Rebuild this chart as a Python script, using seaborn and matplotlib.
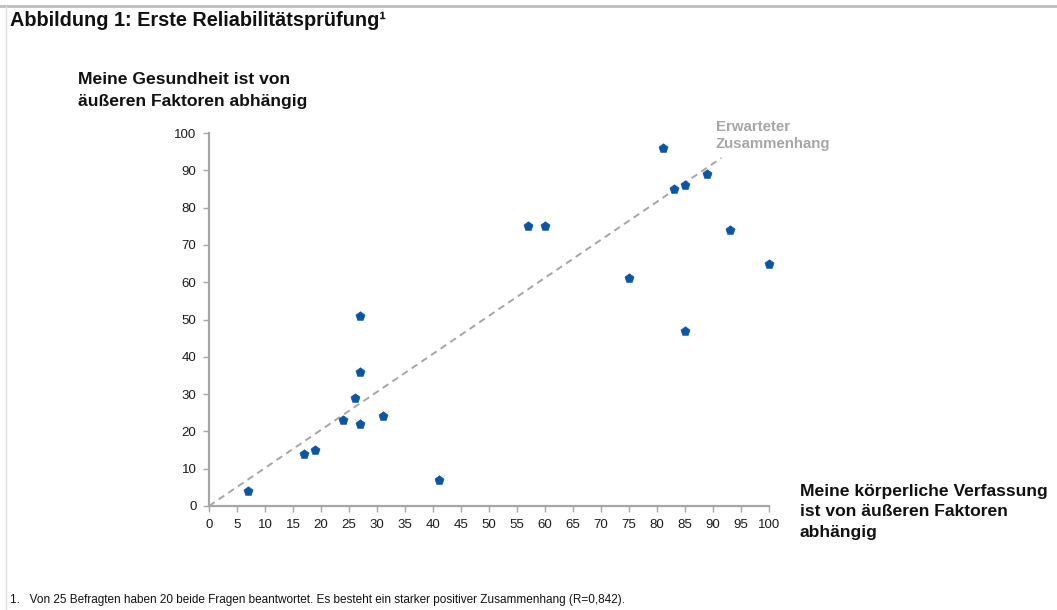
import matplotlib
matplotlib.use("Agg")
import matplotlib.pyplot as plt
import seaborn as sns
import pandas as pd
from matplotlib.lines import Line2D

# Survey answers of the 20 respondents who answered both questions
verfassung = [7, 17, 19, 24, 26, 27, 27, 27, 31, 41, 57, 60, 75, 81, 83, 85, 89, 93, 85, 100]
gesundheit = [4, 14, 15, 23, 29, 22, 36, 51, 24, 7, 75, 75, 61, 96, 85, 86, 89, 74, 47, 65]

# Expected relationship (reference line)
erwartet_x = [0, 91.5]
erwartet_y = [0, 93.3]

x_ticks = list(range(0, 101, 5))
y_ticks = list(range(0, 101, 10))

df = pd.DataFrame({"verfassung": verfassung, "gesundheit": gesundheit})

sns.set_theme(style="white")
plt.rcParams["font.family"] = ["Liberation Sans", "DejaVu Sans"]

fig = plt.figure(figsize=(10.57, 6.10), dpi=100)
ax = fig.add_axes([209 / 1057, 1 - 506 / 610, 560 / 1057, 373 / 610])

axis_grey = "#a6a6a6"
ax.plot(erwartet_x, erwartet_y, linestyle=(0, (3.5, 2.5)), color="#a6a6a6",
        linewidth=1.4, zorder=1)
sns.scatterplot(data=df, x="verfassung", y="gesundheit", ax=ax, marker="p",
                s=46, color="#0a56a5", edgecolor="#0a56a5", linewidth=0.5,
                zorder=3, legend=False, clip_on=False)

ax.set_xlim(0, 100)
ax.set_ylim(0, 100)
ax.set_xticks(x_ticks)
ax.set_yticks(y_ticks)
ax.set_xticklabels([str(t) for t in x_ticks])
ax.set_yticklabels([str(t) for t in y_ticks])
ax.set_xlabel("")
ax.set_ylabel("")
for side in ("top", "right"):
    ax.spines[side].set_visible(False)
for side in ("left", "bottom"):
    ax.spines[side].set_color(axis_grey)
    ax.spines[side].set_linewidth(1.6)
ax.tick_params(axis="both", which="both", direction="out", length=4, width=1,
               color=axis_grey, labelsize=9.5, labelcolor="#1a1a1a", pad=5,
               bottom=True, left=True)
ax.set_facecolor("white")

# Annotation of the reference line
fig.text(716 / 1057, 1 - 120 / 610, "Erwarteter\nZusammenhang", color="#a6a6a6",
         fontsize=10.8, fontweight="bold", va="top", ha="left", linespacing=1.3)

# Axis titles
fig.text(78 / 1057, 1 - 72 / 610, "Meine Gesundheit ist von\näußeren Faktoren abhängig",
         fontsize=12.6, fontweight="bold", va="top", ha="left", color="#111111",
         linespacing=1.55)
fig.text(800 / 1057, 1 - 484 / 610,
         "Meine körperliche Verfassung\nist von äußeren Faktoren\nabhängig",
         fontsize=12.6, fontweight="bold", va="top", ha="left", color="#111111",
         linespacing=1.45)

# Title and footnote
fig.text(10 / 1057, 1 - 21 / 610, "Abbildung 1: Erste Reliabilitätsprüfung¹",
         fontsize=14.3, fontweight="bold", va="center", ha="left", color="#111111")
fig.text(10 / 1057, 1 - 600 / 610,
         "1.   Von 25 Befragten haben 20 beide Fragen beantwortet. Es besteht ein starker positiver Zusammenhang (R=0,842).",
         fontsize=8.5, va="center", ha="left", color="#111111")

# Frame lines along the top and left edges
fig.add_artist(Line2D([0, 1], [1 - 6 / 610, 1 - 6 / 610], transform=fig.transFigure,
                      color="#bdbdbd", linewidth=2))
fig.add_artist(Line2D([6 / 1057, 6 / 1057], [0, 1 - 6 / 610], transform=fig.transFigure,
                      color="#dcdcdc", linewidth=1))

fig.savefig("out.png", dpi=100, facecolor="white")
